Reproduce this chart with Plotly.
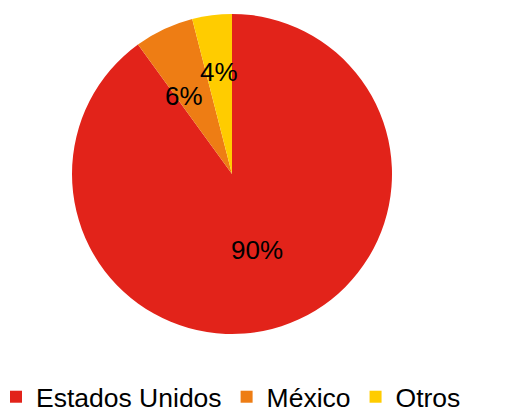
import math
import plotly.graph_objects as go

labels = ["Estados Unidos", "México", "Otros"]
values = [90, 6, 4]
colors = ["#E2231A", "#EE7D14", "#FFCC00"]
label_radius = [0.5, 0.57, 0.64]  # fraction of pie radius for the % labels
label_shift = [0, -10, 0]         # tangential nudge of the labels, px

W, H = 515, 412
OFF = 8  # page body margin offset
cx, cy, R = 232 - OFF, 174 - OFF, 160  # pie centre / radius in figure pixels

fig = go.Figure(go.Pie(
    labels=labels, values=values, sort=False, direction="clockwise", rotation=0,
    marker=dict(colors=colors, line=dict(color="white", width=0)),
    textinfo="none",
    domain=dict(x=[(cx - R) / W, (cx + R) / W], y=[1 - (cy + R) / H, 1 - (cy - R) / H]),
    hoverinfo="label+percent",
))

total = sum(values)
cum = 0
annotations = []
for v, rf, sh in zip(values, label_radius, label_shift):
    mid = (cum + v / 2) / total * 2 * math.pi
    cum += v
    px = cx + rf * R * math.sin(mid) + sh * math.cos(mid)
    py = cy - rf * R * math.cos(mid) + sh * math.sin(mid)
    annotations.append(dict(
        x=px / W, y=1 - py / H, xref="paper", yref="paper",
        text=f"{round(v / total * 100)}%", showarrow=False,
        font=dict(family="Arial, Liberation Sans", size=26, color="black"),
        xanchor="center", yanchor="middle",
    ))

fig.update_layout(
    width=W, height=H, margin=dict(l=0, r=0, t=0, b=0, autoexpand=False),
    paper_bgcolor="white", plot_bgcolor="white",
    font=dict(family="Arial, Liberation Sans", size=26, color="black"),
    legend=dict(orientation="h", x=(231 - OFF) / W, xanchor="center",
                y=1 - (397 - OFF) / H, yanchor="middle",
                font=dict(size=26.5), tracegroupgap=0),
    annotations=annotations,
)
fig.write_html("out.html")
